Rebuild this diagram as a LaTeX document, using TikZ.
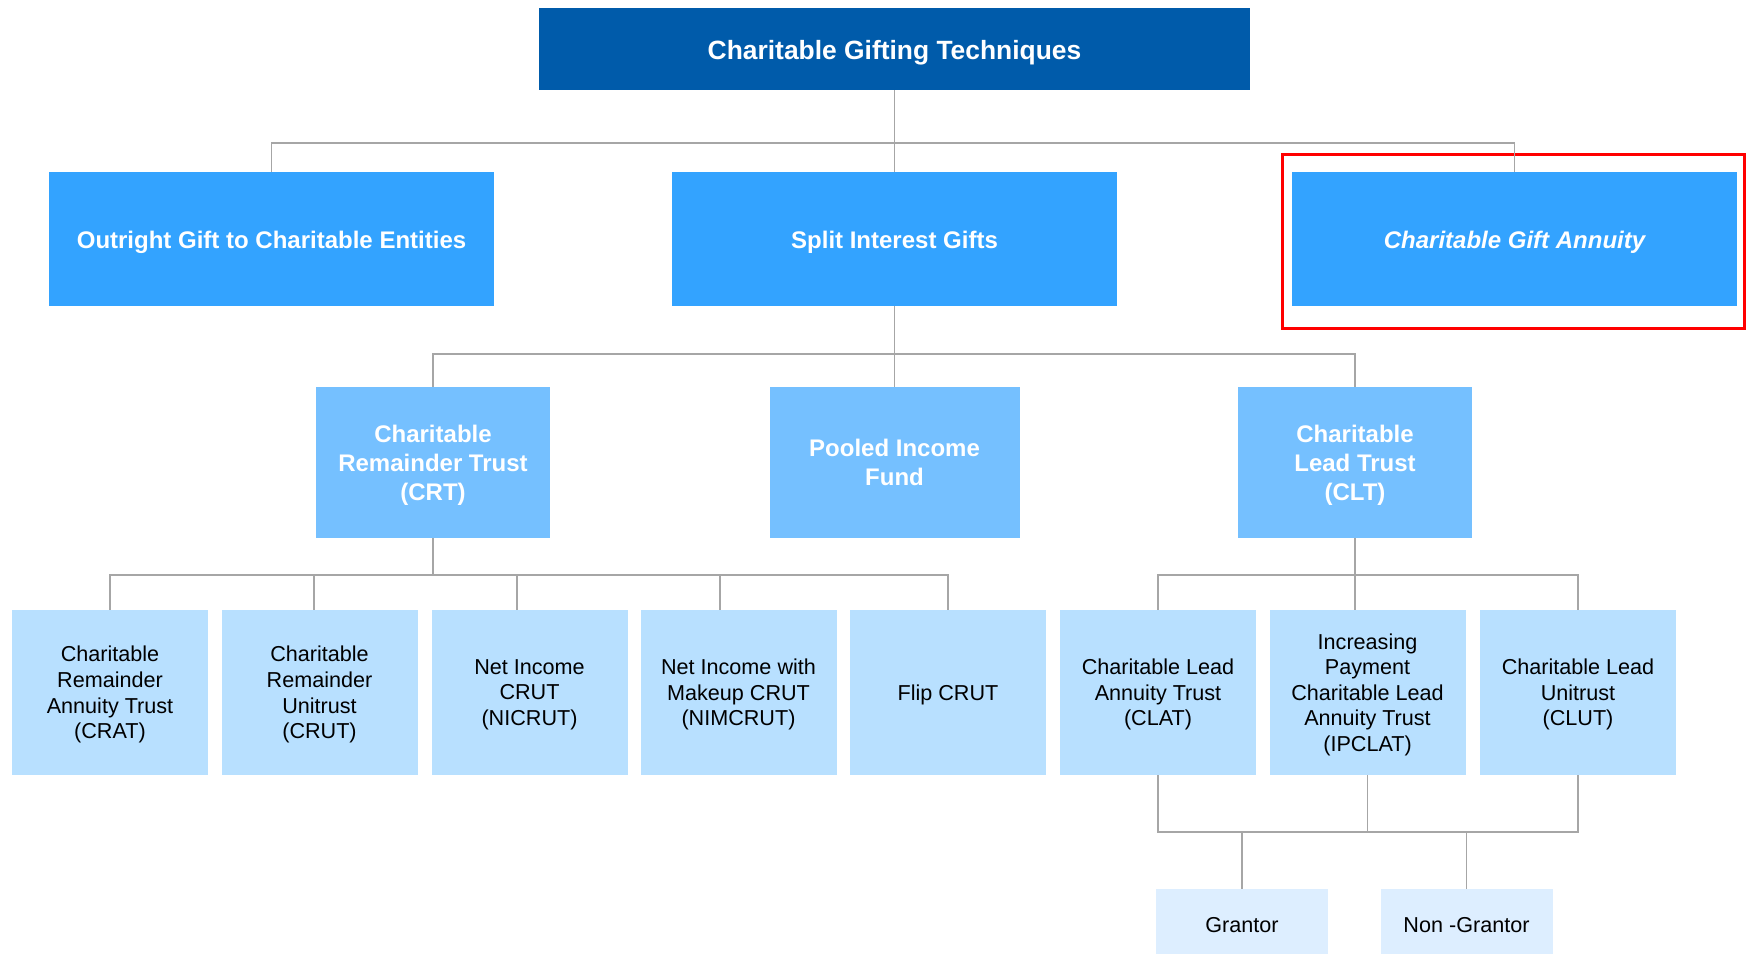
\documentclass[tikz,border=0pt]{standalone}
\usepackage{fontspec}
\setmainfont{Liberation Sans}
\usepackage{tikz}

\definecolor{darkblue}{RGB}{0,91,170}
\definecolor{midblue}{RGB}{51,163,255}
\definecolor{lightblue}{RGB}{117,192,255}
\definecolor{paleblue}{RGB}{184,224,255}
\definecolor{faintblue}{RGB}{221,238,255}
\definecolor{linegray}{RGB}{166,166,166}

\newcommand\boxstrut{\rule{0pt}{\dimexpr0.72em+3.4pt\relax}}

\begin{document}
\begin{tikzpicture}[x=0.5pt,y=-0.5pt,
    onelinebox/.style={inner sep=0pt,execute at begin node=\boxstrut},
    manylinebox/.style={inner sep=0pt,align=center,text depth=-1pt},
    topbox/.style={onelinebox,fill=darkblue,text=white,minimum width=355.5pt,minimum height=41pt,font=\fontsize{13.2}{16}\selectfont\bfseries},
    lvlone/.style={onelinebox,fill=midblue,text=white,minimum width=222.5pt,minimum height=67pt,font=\fontsize{12}{14.5}\selectfont\bfseries},
    lvltwo/.style={manylinebox,fill=lightblue,text=white,minimum height=75.5pt,font=\fontsize{12}{14.5}\selectfont\bfseries},
    leafbox/.style={manylinebox,fill=paleblue,text=black,minimum width=98pt,minimum height=82.5pt,font=\fontsize{10.8}{12.8}\selectfont},
    kindbox/.style={onelinebox,fill=faintblue,text=black,minimum width=86pt,minimum height=32.5pt,font=\fontsize{10.8}{12.8}\selectfont},
    conn/.style={draw=linegray,line width=0.8pt}]
    \useasboundingbox (0,0) rectangle (1750,954);

    % top
    \node[topbox] (title) at (894.5,49) {Charitable Gifting Techniques};

    % first level
    \node[lvlone] (outright) at (271.5,239) {Outright Gift to Charitable Entities};
    \node[lvlone] (split) at (894.5,239) {Split Interest Gifts};
    \node[lvlone,font=\fontsize{12}{14.5}\selectfont\bfseries\itshape] (cga) at (1514.5,239) {Charitable Gift Annuity};
    \draw[red,line width=1.5pt] (1282,154) rectangle (1744,328);

    % second level
    \node[lvltwo,minimum width=117pt] (crt) at (433,462.5) {Charitable\\Remainder Trust\\(CRT)};
    \node[lvltwo,minimum width=125pt] (pif) at (894.5,462.5) {Pooled Income\\Fund};
    \node[lvltwo,minimum width=117pt] (clt) at (1355,462.5) {Charitable\\Lead Trust\\(CLT)};

    % third level
    \node[leafbox] (crat) at (110,692.5) {Charitable\\Remainder\\Annuity Trust\\(CRAT)};
    \node[leafbox] (crut) at (319.5,692.5) {Charitable\\Remainder\\Unitrust\\(CRUT)};
    \node[leafbox] (nicrut) at (529.5,692.5) {Net Income\\CRUT\\(NICRUT)};
    \node[leafbox] (nimcrut) at (738.5,692.5) {Net Income with\\Makeup CRUT\\(NIMCRUT)};
    \node[leafbox] (flip) at (948,692.5) {Flip CRUT};
    \node[leafbox] (clat) at (1158,692.5) {Charitable Lead\\Annuity Trust\\(CLAT)};
    \node[leafbox] (ipclat) at (1367.5,692.5) {Increasing\\Payment\\Charitable Lead\\Annuity Trust\\(IPCLAT)};
    \node[leafbox] (clut) at (1578,692.5) {Charitable Lead\\Unitrust\\(CLUT)};

    % grantor split
    \node[kindbox] (grantor) at (1242,921.5) {Grantor};
    \node[kindbox] (nongrantor) at (1466.5,921.5) {Non -Grantor};

    % connectors
    \coordinate (jtop) at (894.5,143);
    \coordinate (jsplit) at (894.5,354);
    \coordinate (jcrt) at (433,575);
    \coordinate (jclt) at (1355,575);
    \coordinate (jlead) at (1367.5,832);

    \draw[conn] (title.south) -- (jtop);
    \draw[conn] (jtop) -| (outright.north);
    \draw[conn] (jtop) -| (cga.north);
    \draw[conn] (jtop) -- (split.north);

    \draw[conn] (split.south) -- (jsplit);
    \draw[conn] (jsplit) -| (crt.north);
    \draw[conn] (jsplit) -| (clt.north);
    \draw[conn] (jsplit) -- (pif.north);

    \draw[conn] (crt.south) -- (jcrt);
    \draw[conn] (jcrt) -| (crat.north);
    \draw[conn] (jcrt) -| ([xshift=-2.75pt]crut.north);
    \draw[conn] (jcrt) -| ([xshift=-6.25pt]nicrut.north);
    \draw[conn] (jcrt) -| ([xshift=-9.25pt]nimcrut.north);
    \draw[conn] (jcrt) -| (flip.north);

    \draw[conn] (clt.south) -- (jclt);
    \draw[conn] (jclt) -| (clat.north);
    \draw[conn] (jclt) -| ([xshift=-6.25pt]ipclat.north);
    \draw[conn] (jclt) -| (clut.north);

    \draw[conn] (clat.south) |- (jlead) -| (clut.south);
    \draw[conn] (ipclat.south) -- (jlead);
    \draw[conn] (jlead) -| (grantor.north);
    \draw[conn] (jlead) -| (nongrantor.north);
\end{tikzpicture}
\end{document}
